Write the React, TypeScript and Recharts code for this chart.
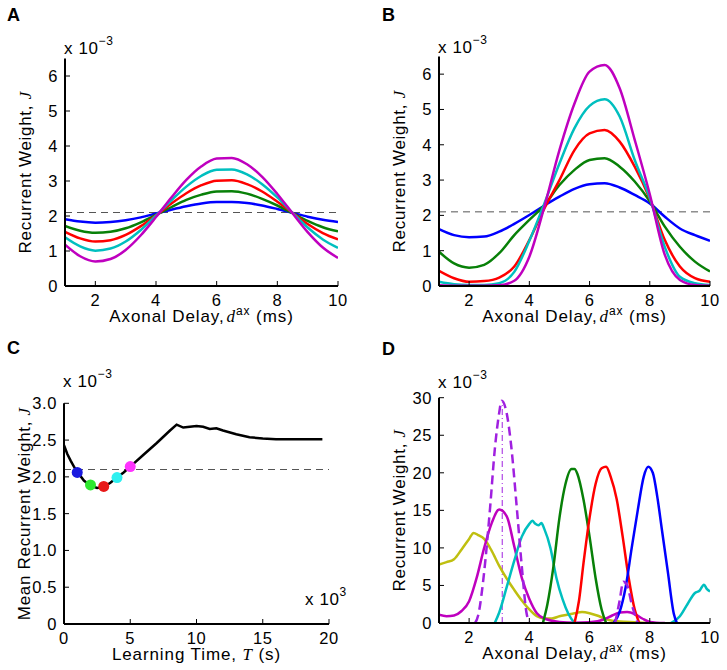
import React from "react";
import { LineChart, Line, XAxis, YAxis, ReferenceLine } from "recharts";

// panels A and B share the delay grid (ms)
const delays = [1, 1.5, 2, 2.5, 3, 3.5, 4, 4.5, 5, 5.5, 6, 6.5, 7, 7.5, 8, 8.5, 9, 9.5, 10];

// A: analytic weights (x 10^-3)
const aBlue = [1.91, 1.84, 1.81, 1.83, 1.88, 1.96, 2.07, 2.18, 2.28, 2.36, 2.4, 2.4, 2.37, 2.3, 2.2, 2.09, 1.98, 1.89, 1.83];
const aGreen = [1.72, 1.58, 1.52, 1.55, 1.65, 1.82, 2.03, 2.25, 2.46, 2.61, 2.7, 2.71, 2.64, 2.49, 2.3, 2.08, 1.86, 1.68, 1.56];
const aRed = [1.55, 1.36, 1.27, 1.31, 1.46, 1.71, 2.02, 2.35, 2.65, 2.88, 3.01, 3.02, 2.91, 2.7, 2.41, 2.09, 1.77, 1.51, 1.33];
const aCyan = [1.39, 1.13, 1.01, 1.07, 1.27, 1.6, 2.01, 2.44, 2.84, 3.15, 3.32, 3.33, 3.19, 2.91, 2.53, 2.09, 1.67, 1.33, 1.09];
const aMagenta = [1.18, 0.85, 0.7, 0.77, 1.03, 1.45, 1.97, 2.52, 3.03, 3.42, 3.64, 3.66, 3.48, 3.12, 2.63, 2.08, 1.54, 1.1, 0.8];

// B: simulated weights (x 10^-3)
const bBlue = [1.61, 1.44, 1.38, 1.4, 1.54, 1.76, 2.01, 2.28, 2.53, 2.75, 2.88, 2.91, 2.79, 2.58, 2.34, 1.96, 1.63, 1.44, 1.28];
const bGreen = [0.97, 0.64, 0.52, 0.6, 0.93, 1.44, 1.87, 2.29, 2.86, 3.29, 3.57, 3.62, 3.38, 2.96, 2.4, 1.68, 1.11, 0.69, 0.41];
const bRed = [0.43, 0.22, 0.12, 0.14, 0.24, 0.55, 1.3, 2.2, 3.0, 3.85, 4.32, 4.42, 4.09, 3.38, 2.47, 1.3, 0.55, 0.22, 0.12];
const bCyan = [0.12, 0.05, 0.03, 0.03, 0.08, 0.4, 1.28, 2.34, 3.47, 4.47, 5.1, 5.29, 4.8, 3.57, 2.5, 1.1, 0.26, 0.08, 0.03];
const bMagenta = [0.02, 0.01, 0.01, 0.01, 0.02, 0.15, 0.83, 2.25, 3.85, 5.17, 6.07, 6.26, 5.6, 4.14, 2.6, 0.88, 0.17, 0.03, 0.01];

const baseline = 2.1;

// C: mean weight over learning time (x 10^3 s)
const cTime = [0, 0.25, 0.5, 0.75, 1, 1.5, 2, 2.5, 3, 3.5, 4, 4.5, 5, 6, 7, 8, 8.5, 9, 9.5, 10, 10.5, 11, 11.5, 12, 13, 14, 15, 16, 17, 18, 19, 19.5];
const cMean = [2.43, 2.31, 2.22, 2.14, 2.07, 1.95, 1.88, 1.85, 1.86, 1.92, 1.99, 2.06, 2.14, 2.3, 2.46, 2.63, 2.71, 2.67, 2.68, 2.69, 2.68, 2.65, 2.66, 2.63, 2.58, 2.54, 2.52, 2.51, 2.51, 2.51, 2.51, 2.51];
const dotTime = [1, 2, 3, 4, 5];
const dotMean = [2.06, 1.89, 1.87, 1.99, 2.14];
const dotColors = ["#1a1adf", "#2ee82e", "#e81818", "#2ef0f0", "#ff33ff"];

// D: single-neuron weight profiles (x 10^-3)
const dYellowX = [1, 1.25, 1.5, 1.75, 2, 2.15, 2.3, 2.5, 2.75, 3, 3.25, 3.5, 3.75, 4, 4.25, 4.5, 4.75, 5, 5.25, 5.5, 5.75, 6, 6.25, 6.5, 6.75, 7, 7.5, 8];
const dYellowY = [7.8, 8.1, 8.5, 9.8, 11.2, 12.0, 11.7, 11.2, 9.6, 7.6, 5.9, 4.4, 3.0, 1.8, 0.9, 0.6, 0.6, 0.9, 1.1, 1.3, 1.45, 1.3, 1.0, 0.6, 0.3, 0.2, 0.1, 0];
const dMagentaX = [1, 1.25, 1.5, 1.75, 2, 2.25, 2.5, 2.75, 3, 3.25, 3.5, 3.75, 4, 4.25, 4.5, 5, 5.5, 6, 6.5, 6.75, 7, 7.25, 7.5, 7.75, 8, 8.5];
const dMagentaY = [1.1, 0.9, 1.0, 1.6, 2.9, 6.0, 10.0, 13.3, 15.1, 14.2, 10.2, 6.0, 3.2, 1.3, 0.6, 0.15, 0.05, 0.1, 0.5, 1.0, 1.4, 1.45, 1.2, 0.6, 0.15, 0];
const dDashX = [2.2, 2.3, 2.5, 2.7, 2.85, 3, 3.08, 3.25, 3.4, 3.58, 3.75, 3.9, 4.0, 5.5, 6.85, 7.0, 7.12, 7.25, 7.4, 7.6];
const dDashY = [0, 1, 6.8, 15.5, 23, 28, 29.6, 27.9, 23.5, 15.5, 7.5, 1.5, 0, null, 0, 3.0, 5.5, 5.0, 2.5, 0];
const dCyanX = [2.85, 3, 3.25, 3.5, 3.75, 4, 4.1, 4.2, 4.3, 4.4, 4.5, 4.7, 4.9, 5.1, 5.3, 5.5, 7, 8.7, 9, 9.25, 9.5, 9.65, 9.8, 9.9, 10];
const dCyanY = [0, 1.4, 4.8, 8.3, 11.5, 13.2, 13.6, 13.2, 13.0, 13.3, 12.5, 10.0, 6.0, 3.2, 1.2, 0, null, 0, 0.9, 2.5, 4.0, 4.3, 5.1, 4.5, 4.2];
const dGreenX = [4.45, 4.6, 4.8, 5, 5.2, 5.4, 5.5, 5.6, 5.8, 6, 6.2, 6.4, 6.55];
const dGreenY = [0, 2.5, 7.5, 14.0, 18.5, 20.5, 20.5, 19.8, 16.4, 11.5, 6.0, 1.8, 0];
const dRedX = [5.5, 5.65, 5.8, 6, 6.2, 6.4, 6.55, 6.7, 6.9, 7.1, 7.3, 7.5, 7.65];
const dRedY = [0, 3.0, 8.0, 14.0, 18.5, 20.6, 20.8, 19.5, 16.5, 11.5, 6.0, 1.8, 0];
const dBlueX = [6.8, 7, 7.2, 7.4, 7.6, 7.8, 7.95, 8.1, 8.25, 8.4, 8.6, 8.8, 8.9];
const dBlueY = [0, 1.5, 4.8, 10.0, 15.0, 19.5, 20.8, 20.0, 16.8, 12.5, 6.8, 1.2, 0];
const peakDelay = 3.1;
const peakTop = 29.5;

const FONT = "'Liberation Sans', Arial, Helvetica, sans-serif";
const SERIF = "'Liberation Serif', 'Times New Roman', serif";
const tickStyle = { fill: "#000", fontSize: 16.5, fontFamily: FONT, letterSpacing: 0.6 };
const axisLine = { stroke: "#000", strokeWidth: 2 };
const tickLine = { stroke: "#000", strokeWidth: 1 };

const colors = {
  blue: "#0000ff",
  green: "#088008",
  red: "#ff0000",
  cyan: "#00bfbf",
  magenta: "#bf00bf",
  yellow: "#bfbf10",
  purple: "#a020e0",
};

const pairs = (xs: number[], ys: (number | null)[]) => xs.map((x, i) => ({ x, y: ys[i] }));

const delayTitle = (props: any) => {
  const { x, y, width } = props.viewBox;
  return (
    <text x={x + width / 2} y={y + 36} textAnchor="middle" fontSize={17} fontFamily={FONT} fill="#000" letterSpacing={0.9}>
      Axonal Delay,
      <tspan fontFamily={SERIF} fontStyle="italic" dx={2}>d</tspan>
      <tspan dy={-7} fontSize={12}>ax</tspan>
      <tspan dy={7}> (ms)</tspan>
    </text>
  );
};

const timeTitle = (props: any) => {
  const { x, y, width } = props.viewBox;
  return (
    <text x={x + width / 2} y={y + 36} textAnchor="middle" fontSize={17} fontFamily={FONT} fill="#000" letterSpacing={0.9}>
      Learning Time, <tspan fontFamily={SERIF} fontStyle="italic">T</tspan> (s)
    </text>
  );
};

const weightTitle = (label: string) => (props: any) => {
  const { x, y, width, height } = props.viewBox;
  const cx = x + width - 34;
  const cy = y + height / 2;
  return (
    <text x={cx} y={cy} transform={`rotate(-90 ${cx} ${cy})`} textAnchor="middle" fontSize={17} fontFamily={FONT} fill="#000" letterSpacing={0.7}>
      {label},{"  "}
      <tspan fontFamily={SERIF} fontStyle="italic">J</tspan>
    </text>
  );
};

const delayAxis = (
  <XAxis
    dataKey="x"
    type="number"
    domain={[1, 10]}
    ticks={[2, 4, 6, 8, 10]}
    allowDataOverflow
    height={30}
    tick={tickStyle}
    tickSize={-5}
    tickMargin={13}
    axisLine={axisLine}
    tickLine={tickLine}
    label={delayTitle}
  />
);

function DelayPanel({ series, left, top, marginLeft, marginRight, marginTop }: any) {
  const rows = delays.map((x, i) => {
    const r: any = { x };
    series.forEach((s: any) => (r[s.key] = s.values[i]));
    return r;
  });
  return (
    <div style={{ position: "absolute", left, top }}>
      <LineChart width={left === 0 ? 360 : 367} height={330} data={rows} margin={{ top: marginTop, right: marginRight, left: marginLeft, bottom: 14 }}>
        {delayAxis}
        <YAxis
          type="number"
          domain={[0, 6.5]}
          ticks={[0, 1, 2, 3, 4, 5, 6]}
          allowDataOverflow
          width={40}
          tick={tickStyle}
          tickSize={-5}
          tickMargin={12}
          axisLine={axisLine}
          tickLine={tickLine}
          label={weightTitle("Recurrent Weight")}
        />
        <ReferenceLine y={baseline} stroke="#555" strokeDasharray="7 5" strokeWidth={1} />
        {series.map((s: any) => (
          <Line key={s.key} dataKey={s.key} type="monotone" stroke={s.color} strokeWidth={2.5} dot={false} isAnimationActive={false} />
        ))}
      </LineChart>
    </div>
  );
}

const seriesA = [
  { key: "blue", values: aBlue, color: colors.blue },
  { key: "green", values: aGreen, color: colors.green },
  { key: "red", values: aRed, color: colors.red },
  { key: "cyan", values: aCyan, color: colors.cyan },
  { key: "magenta", values: aMagenta, color: colors.magenta },
];
const seriesB = [
  { key: "blue", values: bBlue, color: colors.blue },
  { key: "green", values: bGreen, color: colors.green },
  { key: "red", values: bRed, color: colors.red },
  { key: "cyan", values: bCyan, color: colors.cyan },
  { key: "magenta", values: bMagenta, color: colors.magenta },
];

function PanelC() {
  const rows = cTime.map((t, i) => ({ t, j: cMean[i] }));
  const dots = dotTime.map((t, i) => ({ t, j: dotMean[i] }));
  return (
    <div style={{ position: "absolute", left: 0, top: 330 }}>
      <LineChart width={360} height={340} data={rows} margin={{ top: 73.3, right: 31, left: 24, bottom: 16 }}>
        <XAxis
          dataKey="t"
          type="number"
          domain={[0, 20]}
          ticks={[0, 5, 10, 15, 20]}
          allowDataOverflow
          height={30}
          tick={tickStyle}
          tickSize={-5}
          tickMargin={13}
          axisLine={axisLine}
          tickLine={tickLine}
          label={timeTitle}
        />
        <YAxis
          type="number"
          domain={[0, 3]}
          ticks={[0, 0.5, 1, 1.5, 2, 2.5, 3]}
          tickFormatter={(v: number) => (v === 0 ? "0" : v.toFixed(1))}
          allowDataOverflow
          width={40}
          tick={tickStyle}
          tickSize={-5}
          tickMargin={12}
          axisLine={axisLine}
          tickLine={tickLine}
          label={weightTitle("Mean Recurrent Weight")}
        />
        <ReferenceLine y={baseline} stroke="#555" strokeDasharray="7 5" strokeWidth={1} />
        <Line dataKey="j" type="linear" stroke="#000" strokeWidth={2.5} dot={false} isAnimationActive={false} />
        <Line
          data={dots}
          dataKey="j"
          stroke="none"
          isAnimationActive={false}
          dot={(p: any) => <circle key={p.index} cx={p.cx} cy={p.cy} r={5.5} fill={dotColors[p.index]} />}
        />
      </LineChart>
    </div>
  );
}

function PanelD() {
  const lines = [
    { key: "yellow", data: pairs(dYellowX, dYellowY), color: colors.yellow },
    { key: "magenta", data: pairs(dMagentaX, dMagentaY), color: colors.magenta },
    { key: "cyan", data: pairs(dCyanX, dCyanY), color: colors.cyan },
    { key: "green", data: pairs(dGreenX, dGreenY), color: colors.green },
    { key: "red", data: pairs(dRedX, dRedY), color: colors.red },
    { key: "blue", data: pairs(dBlueX, dBlueY), color: colors.blue },
  ];
  return (
    <div style={{ position: "absolute", left: 360, top: 330 }}>
      <LineChart width={367} height={340} margin={{ top: 67.7, right: 17, left: 39, bottom: 17 }}>
        {delayAxis}
        <YAxis
          type="number"
          domain={[0, 30]}
          ticks={[0, 5, 10, 15, 20, 25, 30]}
          allowDataOverflow
          width={40}
          tick={tickStyle}
          tickSize={-5}
          tickMargin={12}
          axisLine={axisLine}
          tickLine={tickLine}
          label={weightTitle("Recurrent Weight")}
        />
        <ReferenceLine
          segment={[{ x: peakDelay, y: 0 }, { x: peakDelay, y: peakTop }]}
          stroke={colors.purple}
          strokeWidth={1}
          strokeDasharray="6 3 1 3"
        />
        {lines.map((l) => (
          <Line key={l.key} data={l.data} dataKey="y" type="monotone" stroke={l.color} strokeWidth={2.5} dot={false} isAnimationActive={false} />
        ))}
        <Line
          data={pairs(dDashX, dDashY)}
          dataKey="y"
          type="monotone"
          stroke={colors.purple}
          strokeWidth={2.5}
          strokeDasharray="9 5"
          dot={false}
          isAnimationActive={false}
        />
      </LineChart>
    </div>
  );
}

const Exponent = ({ x, y, power }: { x: number; y: number; power: string }) => (
  <text x={x} y={y} fontSize={17} fontFamily={FONT} fill="#000" letterSpacing={0.6}>
    x 10<tspan dy={-9} fontSize={12}>{power}</tspan>
  </text>
);

export default function App() {
  return (
    <div style={{ position: "absolute", left: 0, top: 0, width: 727, height: 670, background: "#fff", overflow: "hidden" }}>
      <DelayPanel series={seriesA} left={0} top={0} marginLeft={25} marginRight={22} marginTop={58.5} />
      <DelayPanel series={seriesB} left={360} top={0} marginLeft={39} marginRight={17} marginTop={56.5} />
      <PanelC />
      <PanelD />
      <svg width={727} height={670} style={{ position: "absolute", left: 0, top: 0, pointerEvents: "none" }}>
        <g fontFamily={FONT} fontWeight="bold" fontSize={18} fill="#000">
          <text x={7} y={21}>A</text>
          <text x={382} y={21}>B</text>
          <text x={7} y={354}>C</text>
          <text x={382} y={355}>D</text>
        </g>
        <Exponent x={64} y={54} power="−3" />
        <Exponent x={438} y={53} power="−3" />
        <Exponent x={63} y={387} power="−3" />
        <Exponent x={438} y={388} power="−3" />
        <Exponent x={305} y={605} power="3" />
      </svg>
    </div>
  );
}
